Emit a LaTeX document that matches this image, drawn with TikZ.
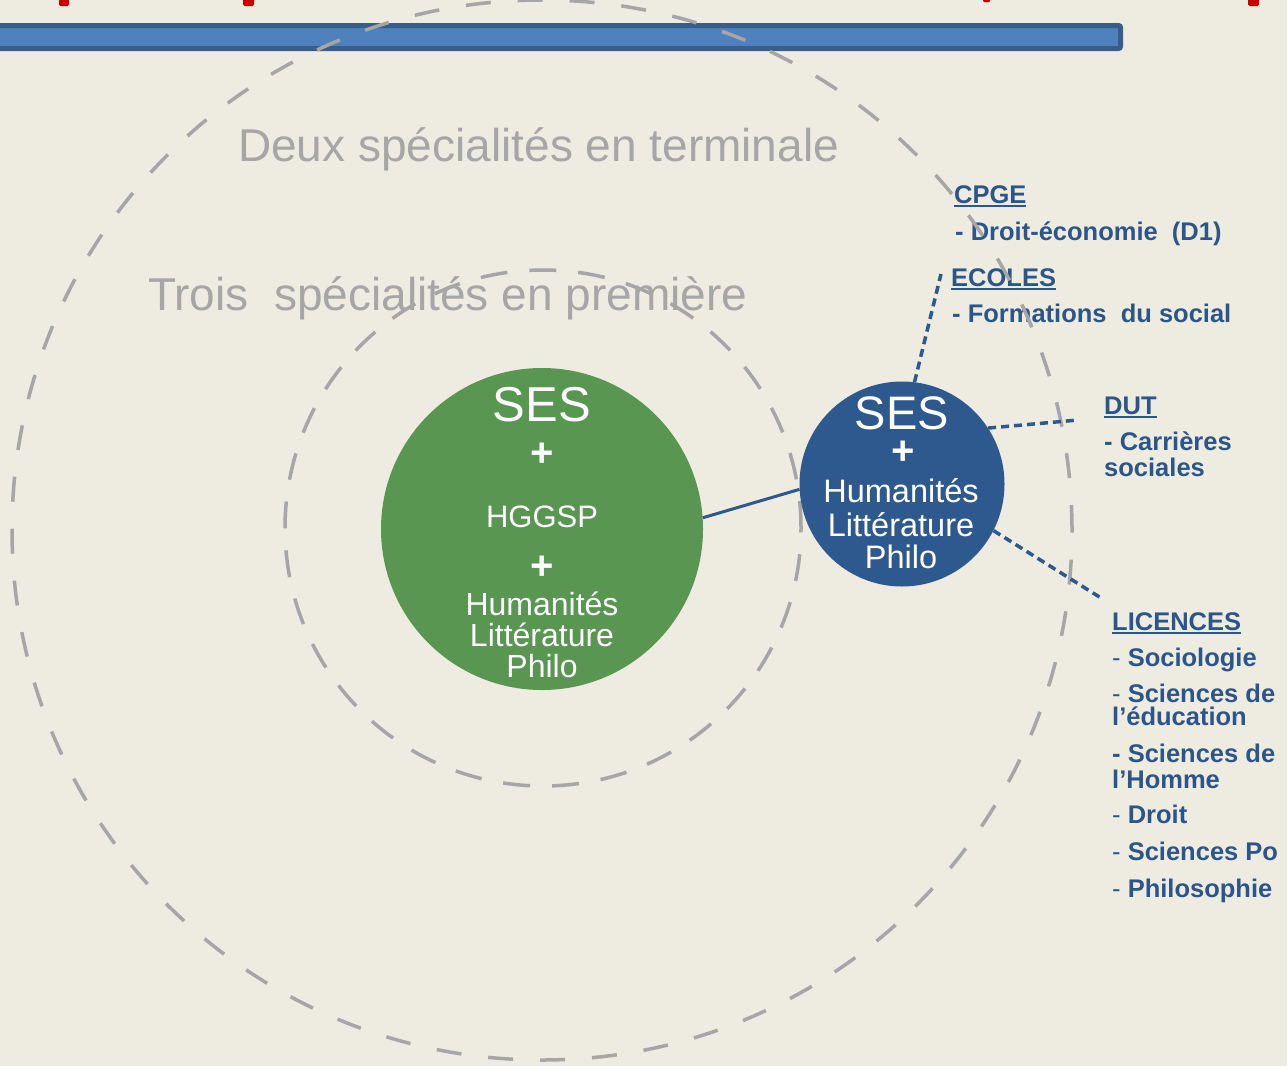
\documentclass[tikz,border=0pt]{standalone}
\usepackage{fontspec}
\setmainfont{Liberation Sans}

\definecolor{fond}{RGB}{238,235,224}
\definecolor{vert}{RGB}{88,150,82}
\definecolor{bleu}{RGB}{46,89,142}
\definecolor{bleutexte}{RGB}{44,85,138}
\definecolor{gris}{RGB}{166,166,166}
\definecolor{barre}{RGB}{79,129,189}
\definecolor{barrebord}{RGB}{56,93,138}
\definecolor{rouge}{RGB}{200,0,0}

\newcommand{\setfs}[1]{\fontsize{#1}{#1}\selectfont}
\newcommand{\souligne}[1]{\setbox0=\hbox{#1}\rlap{\rule[-4pt]{\wd0}{2.5pt}}\box0}

\tikzstyle{vertcircle} = [circle, fill=vert, minimum size=322pt, inner sep=0pt]
\tikzstyle{bleucircle} = [circle, fill=bleu, minimum size=205pt, inner sep=0pt]
\tikzstyle{ring} = [draw=gris, line width=3.5pt, dash pattern=on 25pt off 27pt]
\tikzstyle{innerring} = [draw=gris, line width=3.5pt, dash pattern=on 27pt off 22pt]
\tikzstyle{titre} = [text=gris, font=\setfs{46}, anchor=base west, inner sep=0pt]
\tikzstyle{dedans} = [text=white, anchor=base, inner sep=0pt]
\tikzstyle{plus} = [text=white, font=\setfs{40}\bfseries, inner sep=0pt]
\tikzstyle{etiq} = [text=bleutexte, font=\setfs{25.5}\bfseries, anchor=base west, inner sep=0pt]
\tikzstyle{lien} = [draw=bleu, line width=3pt]
\tikzstyle{pointille} = [draw=bleu, line width=3.5pt, dash pattern=on 8pt off 5pt]

\begin{document}
\begin{tikzpicture}[x=1pt, y=-1pt]
    \useasboundingbox (0,0) rectangle (1287,1066);
    \clip (0,0) rectangle (1287,1066);
    \fill[fond] (0,0) rectangle (1287,1066);

    % bas du titre coupe
    \fill[rouge, rounded corners=1.5pt] (59,-4) rectangle (69,6);
    \fill[rouge, rounded corners=1.5pt] (243,-4) rectangle (254,6);
    \fill[rouge, rounded corners=1pt] (983,-4) rectangle (990,2);
    \fill[rouge, rounded corners=1.5pt] (1248,-4) rectangle (1259,6);

    % bandeau
    \filldraw[fill=barre, draw=barrebord, line width=5pt, rounded corners=2pt] (-10,25.5) rectangle (1120.5,48.5);

    \node[titre] (terminale) at (238,161) {Deux spécialités en terminale};
    \node[titre] (premiere) at (148,310) {Trois\ \ spécialités en première};

    % debouches
    \node[etiq] (cpge) at (954,203) {\souligne{CPGE}};
    \node[etiq] (cpge1) at (955,240) {- Droit-économie\ \ (D1)};
    \node[etiq] (ecoles) at (951,286) {\souligne{ECOLES}};
    \node[etiq] (ecoles1) at (952,322) {- Formations\ \ du social};
    \node[etiq] (dut) at (1104,414) {\souligne{DUT}};
    \node[etiq] (dut1) at (1104,450) {- Carrières};
    \node[etiq] (dut2) at (1104,476) {sociales};
    \node[etiq] (lic) at (1112,630) {\souligne{LICENCES}};
    \foreach \y/\t [count=\i] in {666/{\textmd{-} Sociologie}, 702/{\textmd{-} Sciences de},
        725/{l’éducation}, 762/{- Sciences de}, 788/{l’Homme}, 823/{\textmd{-} Droit},
        860/{\textmd{-} Sciences Po}, 897/{\textmd{-} Philosophie}}
        \node[etiq] (lic\i) at (1112,\y) {\t};

    \draw[ring] (542,530) circle [radius=530pt];
    \draw[innerring] (543,528) circle [radius=258pt];

    \node[vertcircle] (vert) at (542,529) {};
    \node[bleucircle] (bleu) at (902,484) {};

    % premiere
    \node[dedans, font=\setfs{49}] (ses1) at (542,421) {SES};
    \node[plus] (plus1) at (542,455) {+};
    \node[dedans, font=\setfs{31}] (hggsp) at (542,527) {HGGSP};
    \node[plus] (plus2) at (542,568) {+};
    \node[dedans, font=\setfs{32}] (hum1) at (542,615) {Humanités};
    \node[dedans, font=\setfs{32}] (lit1) at (542,646) {Littérature};
    \node[dedans, font=\setfs{32}] (phi1) at (542,677) {Philo};

    % terminale
    \node[dedans, font=\setfs{47}] (ses2) at (902,429) {SES};
    \node[plus] (plus3) at (903,453) {+};
    \node[dedans, font=\setfs{32.5}] (hum2) at (901,502) {Humanités};
    \node[dedans, font=\setfs{32.5}] (lit2) at (901,536) {Littérature};
    \node[dedans, font=\setfs{32.5}] (phi2) at (901,568) {Philo};

    \coordinate (versecoles) at (941,274);
    \coordinate (versdut) at (1078,420);
    \coordinate (verslic) at (1101,598);

    \draw[lien] (vert.4) -- (bleu.183);
    \draw[pointille] (bleu.83) -- (versecoles);
    \draw[pointille] (bleu.33) -- (versdut);
    \draw[pointille] (bleu.-27) -- (verslic);

\end{tikzpicture}
\end{document}
